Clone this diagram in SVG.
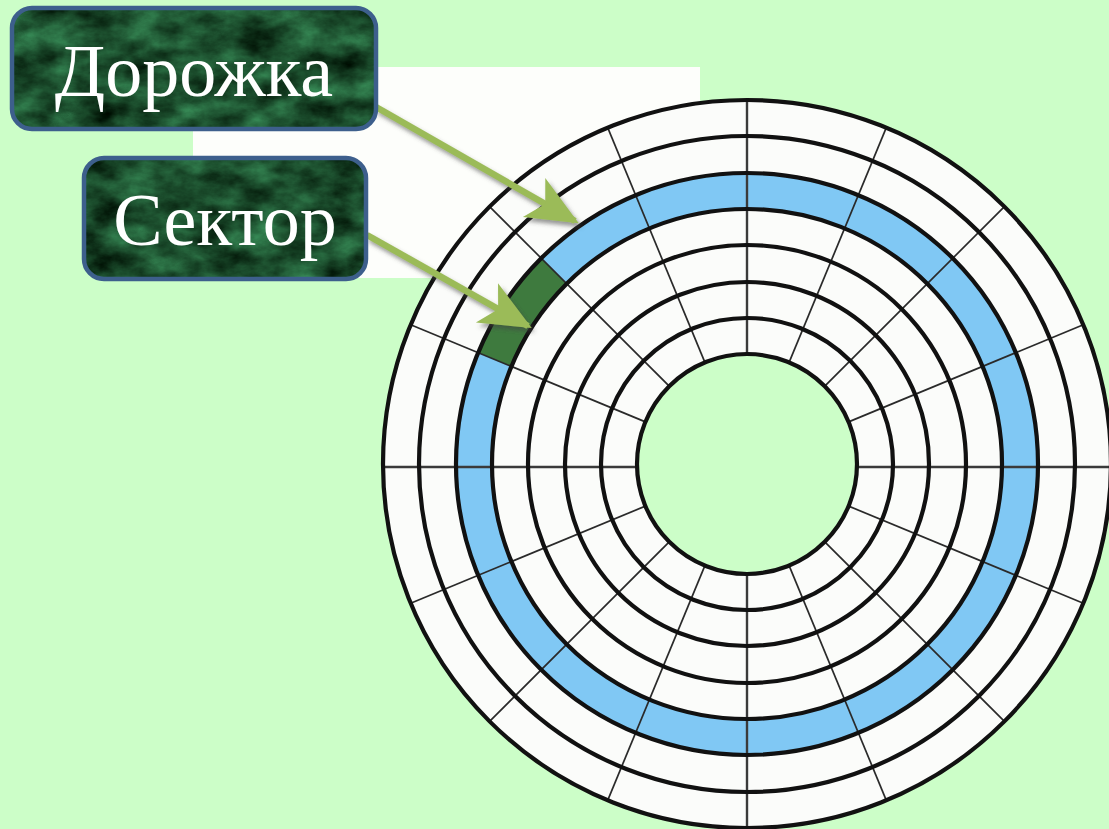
<svg xmlns="http://www.w3.org/2000/svg" width="1109" height="829" viewBox="0 0 1109 829">
  <defs>
    <style>
      .ring { fill: none; stroke: #111; stroke-width: 4.2; }
      .axis { stroke: #3a3a3a; stroke-width: 2.4; }
      .diag { stroke: #2a2a2a; stroke-width: 1.7; }
      .box-bg { fill: #1d5a35; }
      .box-border { fill: none; stroke: #3d5f8c; stroke-width: 4.5; }
      .label { font-family: "Liberation Serif", "Times New Roman", serif; font-size: 74px; fill: #ffffff; text-anchor: middle; }
      .arrow { stroke: #9bbb59; stroke-width: 6.5; fill: none; }
    </style>
    <filter id="marble" x="0" y="0" width="1" height="1" color-interpolation-filters="sRGB">
      <feTurbulence type="fractalNoise" baseFrequency="0.025 0.04" numOctaves="5" seed="11" result="n"/>
      <feColorMatrix in="n" type="matrix" values="0.28 0 0 0 -0.03  0.62 0 0 0 0.0  0.42 0 0 0 -0.03  0 0 0 0 1" result="c"/>
      <feComposite in="c" in2="SourceAlpha" operator="in"/>
    </filter>
    <filter id="shadow" x="-20%" y="-20%" width="140%" height="140%">
      <feDropShadow dx="3" dy="4" stdDeviation="2" flood-color="#444" flood-opacity="0.55"/>
    </filter>
    <marker id="head" markerUnits="userSpaceOnUse" markerWidth="60" markerHeight="60" viewBox="-50 -25 56 50" refX="0" refY="0" orient="auto">
      <path d="M 4 0 L -44 -21 L -32 0 L -44 21 Z" fill="#9bbb59"/>
    </marker>
  </defs>

  <rect x="0" y="0" width="1109" height="829" fill="#ccfec8"/>
  <rect x="193" y="67" width="507" height="211" fill="#fdfefb"/>

  <g id="disk" transform="translate(747,464)">
    <circle r="364" fill="#fbfcfa"/>
    <circle r="110" fill="#ccfec8"/>
    <circle r="273" fill="none" stroke="#80c8f4" stroke-width="36"/>
    <path d="M -205.8 -205.8 A 291 291 0 0 0 -268.9 -111.4 L -235.6 -97.6 A 255 255 0 0 1 -180.3 -180.3 Z" fill="#3e7a3e"/>
    <g id="radials">
      <line class="axis" x1="-364" y1="3" x2="-110" y2="3"/>
      <line class="axis" x1="110" y1="3" x2="364" y2="3"/>
      <line class="axis" x1="0" y1="-364" x2="0" y2="-110"/>
      <line class="axis" x1="0" y1="110" x2="0" y2="364"/>
      <line class="diag" x1="101.6" y1="-42.1" x2="336.3" y2="-139.3"/>
      <line class="diag" x1="77.8" y1="-77.8" x2="257.4" y2="-257.4"/>
      <line class="diag" x1="42.1" y1="-101.6" x2="139.3" y2="-336.3"/>
      <line class="diag" x1="-101.6" y1="-42.1" x2="-336.3" y2="-139.3"/>
      <line class="diag" x1="-77.8" y1="-77.8" x2="-257.4" y2="-257.4"/>
      <line class="diag" x1="-42.1" y1="-101.6" x2="-139.3" y2="-336.3"/>
      <line class="diag" x1="101.6" y1="42.1" x2="336.3" y2="139.3"/>
      <line class="diag" x1="77.8" y1="77.8" x2="257.4" y2="257.4"/>
      <line class="diag" x1="42.1" y1="101.6" x2="139.3" y2="336.3"/>
      <line class="diag" x1="-101.6" y1="42.1" x2="-336.3" y2="139.3"/>
      <line class="diag" x1="-77.8" y1="77.8" x2="-257.4" y2="257.4"/>
      <line class="diag" x1="-42.1" y1="101.6" x2="-139.3" y2="336.3"/>
    </g>
    <g id="tracks">
      <circle class="ring" r="110"/>
      <circle class="ring" r="146"/>
      <circle class="ring" r="182"/>
      <circle class="ring" r="219"/>
      <circle class="ring" r="255"/>
      <circle class="ring" r="291"/>
      <circle class="ring" r="328"/>
      <circle class="ring" r="364"/>
    </g>
  </g>

  <g id="connectors" filter="url(#shadow)">
    <line class="arrow" x1="376" y1="107" x2="575" y2="221" marker-end="url(#head)"/>
    <line class="arrow" x1="367" y1="235" x2="528" y2="326" marker-end="url(#head)"/>
  </g>

  <g id="node-track">
    <rect class="box-bg" x="12" y="8" width="364" height="121" rx="20" filter="url(#marble)"/>
    <rect class="box-border" x="12" y="8" width="364" height="121" rx="20"/>
    <text class="label" x="194" y="96">Дорожка</text>
  </g>

  <g id="node-sector">
    <rect class="box-bg" x="84" y="158" width="282" height="121" rx="20" filter="url(#marble)"/>
    <rect class="box-border" x="84" y="158" width="282" height="121" rx="20"/>
    <text class="label" x="225" y="245">Сектор</text>
  </g>
</svg>
